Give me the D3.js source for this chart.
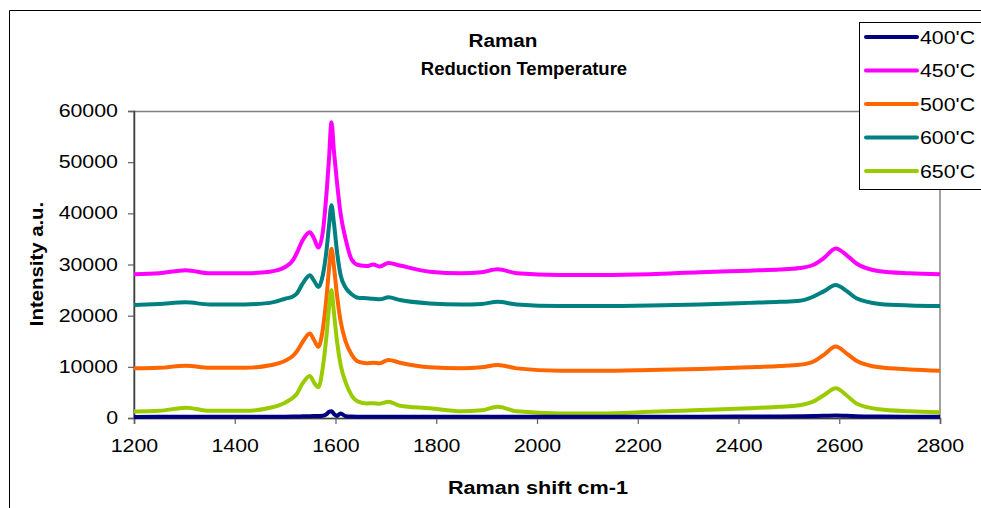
<!DOCTYPE html>
<html lang="en">
<head>
<meta charset="UTF-8">
<title>Raman Reduction Temperature</title>
<script src="https://cdnjs.cloudflare.com/ajax/libs/d3/7.8.5/d3.min.js"></script>
<style>
    body { margin: 0; background: #fff; }
    svg { display: block; font-family: "Liberation Sans", Arial, sans-serif; }
</style>
</head>
<body>
<svg id="chart" width="981" height="508"></svg>
<script>
    // Raman shift (cm-1), shared by every spectrum
    const shift = [1200, 1250, 1303, 1350, 1420, 1470, 1500, 1516, 1523, 1535, 1549, 1557, 1566, 1575,
        1583, 1587, 1592, 1597, 1603, 1610, 1620, 1632, 1645, 1662, 1675, 1688, 1705, 1728, 1787, 1850,
        1890, 1922, 1960, 2045, 2125, 2225, 2323, 2421, 2482, 2521, 2548, 2570, 2593, 2615, 2634, 2680,
        2740, 2800];

    const t400 = [200, 220, 250, 230, 240, 250, 260, 280, 300, 320, 350, 380, 400, 450,
        800, 1200, 1300, 800, 400, 900, 350, 280, 260, 250, 250, 250, 260, 250, 240, 240,
        240, 250, 240, 230, 230, 240, 250, 280, 300, 330, 380, 420, 500, 420, 350, 280,
        250, 240];

    const t450 = [28100, 28300, 28900, 28300, 28300, 28600, 29500, 30900, 32200, 34800, 36300, 35200, 33300, 36500,
        45000, 50500, 57800, 52000, 46000, 40000, 35000, 31000, 29900, 29700, 30000, 29600, 30300, 29800, 28600, 28300,
        28500, 29050, 28300, 27950, 27950, 28100, 28500, 28800, 29000, 29300, 29900, 31300, 33150, 31800, 30200, 28700,
        28300, 28100];

    const t500 = [9700, 9800, 10200, 9800, 9800, 10300, 11200, 12200, 13000, 14900, 16500, 15300, 13900, 17500,
        24500, 29000, 33100, 29500, 24000, 19000, 15000, 12400, 11000, 10700, 10800, 10700, 11350, 10800, 9900, 9700,
        9900, 10350, 9700, 9250, 9250, 9400, 9600, 9900, 10150, 10400, 11000, 12400, 13950, 12600, 11200, 9900,
        9500, 9250];

    const t600 = [22100, 22300, 22600, 22200, 22200, 22500, 23300, 23800, 24300, 26300, 27900, 26900, 25600, 28000,
        33500, 37500, 41600, 38000, 32500, 28000, 25500, 24200, 23500, 23400, 23300, 23200, 23600, 23050, 22400, 22200,
        22300, 22700, 22200, 21900, 21900, 22000, 22200, 22500, 22700, 22900, 23700, 24800, 26000, 24800, 23400, 22300,
        22000, 21900];

    const t650 = [1250, 1400, 2000, 1400, 1400, 2000, 3000, 4000, 4700, 6800, 8200, 7000, 6000, 10000,
        17000, 21500, 25000, 20500, 15000, 10500, 7000, 4400, 3200, 2850, 2900, 2800, 3200, 2400, 1900, 1300,
        1500, 2200, 1300, 900, 900, 1200, 1550, 1900, 2200, 2500, 3200, 4500, 5800, 4400, 2850, 1700,
        1300, 1100];

    const seriesNames = ["400'C", "450'C", "500'C", "600'C", "650'C"];
    const seriesColors = ["#000080", "#ff00ff", "#ff6600", "#008080", "#99cc00"];
    const seriesValues = [t400, t450, t500, t600, t650];
    const xTicks = [1200, 1400, 1600, 1800, 2000, 2200, 2400, 2600, 2800];
    const yTicks = [0, 10000, 20000, 30000, 40000, 50000, 60000];

    const svg = d3.select("#chart");
    const plotLeft = 134, plotRight = 940, plotTop = 111, plotBottom = 418;

    const x = d3.scaleLinear().domain([1200, 2800]).range([plotLeft, plotRight]);
    const y = d3.scaleLinear().domain([0, 60000]).range([plotBottom, plotTop]);

    // the original text is drawn a bit wider than Arial, stretch it horizontally
    function stretch(sel, k) {
        sel.each(function() {
            const w = this.getComputedTextLength();
            d3.select(this).attr("textLength", w * k).attr("lengthAdjust", "spacingAndGlyphs");
        });
    }

    // outer chart frame (only left and top are visible)
    svg.append("line").attr("x1", 9.5).attr("y1", 10.5).attr("x2", 981).attr("y2", 10.5)
        .attr("stroke", "#000").attr("stroke-width", 1);
    svg.append("line").attr("x1", 9.5).attr("y1", 10.5).attr("x2", 9.5).attr("y2", 508)
        .attr("stroke", "#000").attr("stroke-width", 1);

    // plot area border
    svg.append("rect")
        .attr("x", plotLeft).attr("y", plotTop + 0.5)
        .attr("width", plotRight - plotLeft).attr("height", plotBottom - plotTop)
        .attr("fill", "none").attr("stroke", "#808080").attr("stroke-width", 1.5);

    // axes
    const yAxis = svg.append("g")
        .attr("transform", `translate(${plotLeft},0)`)
        .call(d3.axisLeft(y).tickValues(yTicks).tickSize(6).tickPadding(10).tickFormat(d3.format("d")));
    const xAxis = svg.append("g")
        .attr("transform", `translate(0,${plotBottom})`)
        .call(d3.axisBottom(x).tickValues(xTicks).tickSize(6).tickPadding(16).tickFormat(d3.format("d")));

    [xAxis, yAxis].forEach(g => {
        g.select(".domain").attr("stroke", "#404040").attr("stroke-width", 1.5);
        g.selectAll(".tick line").attr("stroke", "#606060").attr("stroke-width", 1.2);
        g.selectAll(".tick text").attr("font-size", 17.5).attr("fill", "#000")
            .attr("font-family", "'Liberation Sans', Arial, sans-serif")
            .call(stretch, 1.22);
    });

    // spectra
    const line = d3.line()
        .x((d, i) => x(shift[i]))
        .y(d => y(d))
        .curve(d3.curveMonotoneX);

    const drawOrder = [1, 3, 2, 4, 0];
    svg.append("g")
        .selectAll("path")
        .data(drawOrder)
        .enter()
        .append("path")
        .attr("d", k => line(seriesValues[k]))
        .attr("fill", "none")
        .attr("stroke", k => seriesColors[k])
        .attr("stroke-width", 4)
        .attr("stroke-linejoin", "round");

    // titles
    svg.append("text").attr("x", 503).attr("y", 47).attr("text-anchor", "middle")
        .attr("font-size", 18).attr("font-weight", "bold").text("Raman")
        .call(stretch, 1.15);
    svg.append("text").attr("x", 524).attr("y", 75).attr("text-anchor", "middle")
        .attr("font-size", 18.5).attr("font-weight", "bold").text("Reduction Temperature");
    svg.append("text").attr("x", 538).attr("y", 494).attr("text-anchor", "middle")
        .attr("font-size", 18).attr("font-weight", "bold").text("Raman shift cm-1")
        .call(stretch, 1.2);
    svg.append("text")
        .attr("transform", "translate(43,264) rotate(-90)")
        .attr("text-anchor", "middle")
        .attr("font-size", 18).attr("font-weight", "bold").text("Intensity a.u.")
        .call(stretch, 1.13);

    // legend
    const legend = svg.append("g");
    legend.append("rect")
        .attr("x", 859.5).attr("y", 22.5).attr("width", 130).attr("height", 167)
        .attr("fill", "#fff").attr("stroke", "#000").attr("stroke-width", 1);
    const items = legend.selectAll("g.item")
        .data(seriesNames)
        .enter()
        .append("g")
        .attr("class", "item")
        .attr("transform", (d, i) => `translate(0,${37 + i * 33.5})`);
    items.append("line")
        .attr("x1", 866).attr("x2", 917).attr("y1", 0).attr("y2", 0)
        .attr("stroke", (d, i) => seriesColors[i]).attr("stroke-width", 4)
        .attr("stroke-linecap", "round");
    items.append("text")
        .attr("x", 920).attr("y", 6.5)
        .attr("font-size", 17.5)
        .text(d => d)
        .call(stretch, 1.22);
</script>
</body>
</html>
